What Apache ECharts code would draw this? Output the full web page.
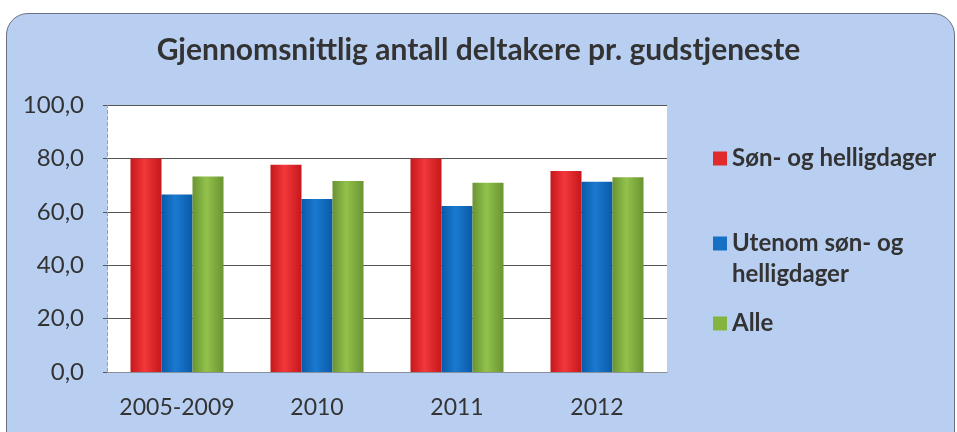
<!DOCTYPE html>
<html>
<head>
<meta charset="utf-8">
<script src="https://cdn.jsdelivr.net/npm/echarts@6/dist/echarts.min.js"></script>
<style>
  html, body { margin: 0; padding: 0; background: #ffffff; }
  #panel {
    position: absolute; left: 6px; top: 13px; width: 947px; height: 440px;
    background: #b9cff2; border: 1px solid #6b7180; border-radius: 22px;
  }
  #chart { position: absolute; left: 0; top: 0; width: 957px; height: 432px; }
</style>
</head>
<body>
<div id="panel"></div>
<div id="chart"></div>
<script>
const categories = ['2005-2009', '2010', '2011', '2012']
const sonOgHelligdager = [80.0, 77.6, 80.0, 75.3]
const utenomSonOgHelligdager = [66.5, 64.8, 62.2, 71.3]
const alle = [73.2, 71.5, 70.9, 72.9]
const yTicks = [0, 20, 40, 60, 80, 100]

const seriesNames = ['Søn- og helligdager', 'Utenom søn- og helligdager', 'Alle']

// horizontal shading to mimic the rounded bars
function shade(edge, mid) {
  return new echarts.graphic.LinearGradient(0, 0, 1, 0, [
    { offset: 0, color: edge },
    { offset: 0.45, color: mid },
    { offset: 1, color: edge }
  ])
}

const FONT = 'Lato, "Open Sans", sans-serif'
const chart = echarts.init(document.getElementById('chart'))

function legendAt(name, top, extra) {
  return Object.assign({
    data: [name],
    left: 708,
    top: top,
    orient: 'vertical',
    icon: 'rect',
    itemWidth: 14,
    itemHeight: 14,
    itemGap: 0,
    selectedMode: false,
    textStyle: { fontFamily: FONT, fontSize: 24, fontWeight: 'bold', color: '#333', lineHeight: 31 }
  }, extra || {})
}

const option = {
  animation: false,
  title: {
    text: 'Gjennomsnittlig antall deltakere pr. gudstjeneste',
    left: 'center',
    top: 30,
    textStyle: { fontFamily: FONT, fontSize: 30, fontWeight: 'bold', color: '#333' }
  },
  legend: [
    legendAt(seriesNames[0], 138),
    // blank first line so the swatch lines up with "Utenom søn- og"
    legendAt(seriesNames[1], 192, {
      formatter: function () { return ' \nUtenom søn- og\nhelligdager' }
    }),
    legendAt(seriesNames[2], 303)
  ],
  grid: {
    left: 107, right: 290, top: 105, bottom: 60,
    show: true, backgroundColor: '#ffffff', borderWidth: 0
  },
  xAxis: {
    type: 'category',
    data: categories,
    axisTick: { show: false },
    axisLine: { show: true, lineStyle: { color: '#8a8f99', width: 1 } },
    axisLabel: { interval: 0, margin: 24, fontFamily: FONT, fontSize: 23, color: '#333' }
  },
  yAxis: {
    type: 'value',
    min: yTicks[0],
    max: yTicks[yTicks.length - 1],
    interval: 20,
    axisLine: { show: true, lineStyle: { color: '#9aa0a8', type: 'dashed' } },
    axisTick: { show: true, length: 4, lineStyle: { color: '#555' } },
    splitLine: { lineStyle: { color: '#555', width: 1 } },
    axisLabel: {
      margin: 23, fontFamily: FONT, fontSize: 24, color: '#333',
      formatter: function (v) { return v.toFixed(1).replace('.', ',') }
    }
  },
  series: [
    {
      name: seriesNames[0], type: 'bar', data: sonOgHelligdager,
      barWidth: 31, barGap: '0%',
      itemStyle: { color: shade('#c5171c', '#f2383a') }
    },
    {
      name: seriesNames[1], type: 'bar', data: utenomSonOgHelligdager,
      barWidth: 31, barGap: '0%',
      itemStyle: { color: shade('#0a5aa8', '#1a7ad0') }
    },
    {
      name: seriesNames[2], type: 'bar', data: alle,
      barWidth: 31, barGap: '0%',
      itemStyle: { color: shade('#6a9430', '#92c24c') }
    }
  ]
}

// legend swatch colours (flat, as in the original)
option.legend[0].itemStyle = { color: '#e02a2c' }
option.legend[1].itemStyle = { color: '#1670c4' }
option.legend[2].itemStyle = { color: '#84b440' }

chart.setOption(option)
</script>
</body>
</html>
